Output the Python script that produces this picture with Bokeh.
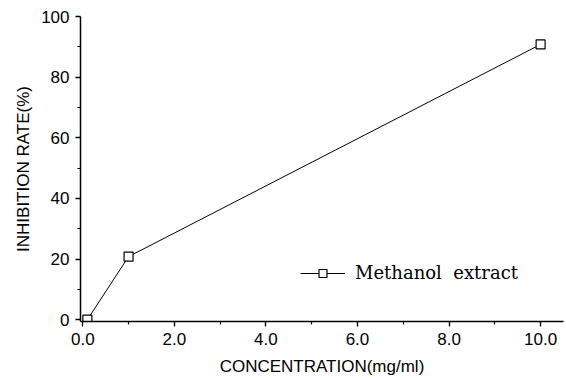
from bokeh.plotting import figure
from bokeh.models import Range1d, FixedTicker, Legend, LegendItem
from bokeh.embed import file_html
from bokeh.resources import INLINE

concentration = [0.1, 1.0, 10.0]
inhibition = [0.0, 20.8, 90.8]
x_ticks = [0, 2, 4, 6, 8, 10]
x_tick_labels = {0: "0.0", 2: "2.0", 4: "4.0", 6: "6.0", 8: "8.0", 10: "10.0"}
y_ticks = [0, 20, 40, 60, 80, 100]
series_name = "Methanol  extract"

p = figure(width=566, height=378, output_backend="svg", toolbar_location=None,
           x_range=Range1d(-0.05, 10.5), y_range=Range1d(-0.6, 100),
           min_border_left=80, min_border_right=3, min_border_top=16, min_border_bottom=57)
p.outline_line_color = None
p.xgrid.visible = False
p.ygrid.visible = False
p.background_fill_color = "white"

line = p.line(concentration, inhibition, line_color="black", line_width=1)
pts = p.scatter(concentration, inhibition, marker="square", size=9,
                fill_color="white", line_color="black", line_width=1.2)

for ax in (p.xaxis[0], p.yaxis[0]):
    ax.axis_line_color = "black"
    ax.axis_line_width = 1.5
    ax.major_tick_line_color = "black"
    ax.minor_tick_line_color = "black"
    ax.major_tick_line_width = 1.3
    ax.minor_tick_line_width = 1.2
    ax.major_tick_out = 5
    ax.major_tick_in = 0
    ax.minor_tick_out = 3
    ax.minor_tick_in = 0
    ax.major_label_text_font = "Liberation Sans"
    ax.major_label_text_font_size = "17px"
    ax.major_label_text_color = "black"
    ax.axis_label_text_font = "Liberation Sans"
    ax.axis_label_text_font_size = "17px"
    ax.axis_label_text_font_style = "normal"
    ax.axis_label_text_color = "black"

p.xaxis[0].ticker = FixedTicker(ticks=x_ticks, minor_ticks=[1, 3, 5, 7, 9])
p.xaxis[0].major_label_overrides = x_tick_labels
p.xaxis[0].axis_label = "CONCENTRATION(mg/ml)"
p.xaxis[0].major_label_standoff = 6
p.xaxis[0].axis_label_standoff = 9

p.yaxis[0].ticker = FixedTicker(ticks=y_ticks, minor_ticks=[10, 30, 50, 70, 90])
p.yaxis[0].axis_label = "INHIBITION RATE(%)"
p.yaxis[0].major_label_standoff = 6
p.yaxis[0].axis_label_standoff = 5

legend = Legend(items=[LegendItem(label=series_name, renderers=[line, pts])],
                location=(220, 38), padding=0, margin=0, border_line_color=None,
                background_fill_alpha=0, glyph_width=45, glyph_height=20,
                label_standoff=10, label_text_font="DejaVu Serif",
                label_text_font_size="18px", label_text_color="black")
p.add_layout(legend)

open("out.html", "w").write(file_html(p, INLINE))
